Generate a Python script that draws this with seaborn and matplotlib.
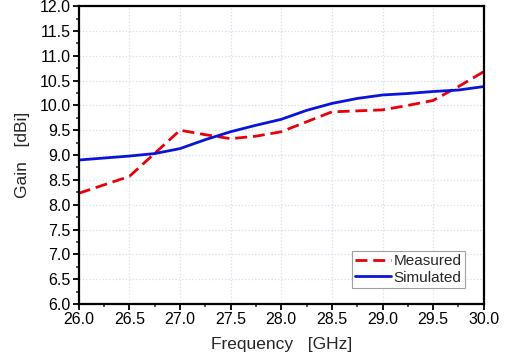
import pandas as pd
import matplotlib.pyplot as plt
import seaborn as sns
from matplotlib.ticker import MultipleLocator

# Измеренные значения усиления
meas_freq = [26.0, 26.5, 27.0, 27.25, 27.5, 27.75, 28.0, 28.25, 28.5, 28.75,
             29.0, 29.25, 29.5, 29.75, 30.0]
meas_gain = [8.23, 8.57, 9.50, 9.41, 9.33, 9.38, 9.47, 9.67, 9.87, 9.89,
             9.91, 10.00, 10.10, 10.38, 10.68]

# Результаты моделирования
sim_freq = [26.0, 26.25, 26.5, 26.75, 27.0, 27.25, 27.5, 27.75, 28.0, 28.25,
            28.5, 28.75, 29.0, 29.25, 29.5, 29.75, 30.0]
sim_gain = [8.90, 8.94, 8.98, 9.03, 9.13, 9.31, 9.47, 9.60, 9.72, 9.90,
            10.04, 10.14, 10.21, 10.24, 10.28, 10.31, 10.38]

df = pd.concat([
    pd.DataFrame({'Frequency': meas_freq, 'Gain': meas_gain, 'Series': 'Measured'}),
    pd.DataFrame({'Frequency': sim_freq, 'Gain': sim_gain, 'Series': 'Simulated'}),
], ignore_index=True)

sns.set_style('ticks')
plt.rcParams['font.family'] = ['Liberation Sans', 'DejaVu Sans']

fig = plt.figure(figsize=(5.05, 3.61), dpi=100)
ax = fig.add_axes([0.156, 0.158, 0.802, 0.825])

sns.lineplot(data=df, x='Frequency', y='Gain', hue='Series', style='Series',
             palette={'Measured': '#e8000b', 'Simulated': '#0a14d8'},
             dashes={'Measured': (4.3, 2.1), 'Simulated': ''},
             linewidth=2.0, ax=ax)

ax.set_xlim(26.0, 30.0)
ax.set_ylim(6.0, 12.0)
ax.xaxis.set_major_locator(MultipleLocator(0.5))
ax.xaxis.set_minor_locator(MultipleLocator(0.25))
ax.yaxis.set_major_locator(MultipleLocator(0.5))
ax.yaxis.set_minor_locator(MultipleLocator(0.25))
ax.set_xticklabels([f'{v:.1f}' for v in ax.get_xticks()])
ax.set_yticklabels([f'{v:.1f}' for v in ax.get_yticks()])

ax.grid(True, which='major', color='#d4dcee', linestyle=':', linewidth=0.9)
for s in ax.spines.values():
    s.set_linewidth(1.6)
    s.set_color('black')
ax.tick_params(which='major', direction='out', length=4, width=1.3,
               labelsize=11.5, colors='black', pad=2)
ax.tick_params(which='minor', direction='out', length=2.5, width=1.1)

ax.set_xlabel('Frequency   [GHz]', fontsize=12.5, labelpad=7)
ax.set_ylabel('Gain   [dBi]', fontsize=12.5, labelpad=7)

leg = ax.legend(loc='lower right', bbox_to_anchor=(0.953, 0.055), fontsize=11,
                frameon=True, fancybox=False, handlelength=2.4,
                labelspacing=0.15, borderpad=0.2, handletextpad=0.15,
                borderaxespad=0)
leg.get_frame().set_edgecolor('#888888')
leg.get_frame().set_linewidth(0.8)

fig.savefig('out.png', dpi=100)
